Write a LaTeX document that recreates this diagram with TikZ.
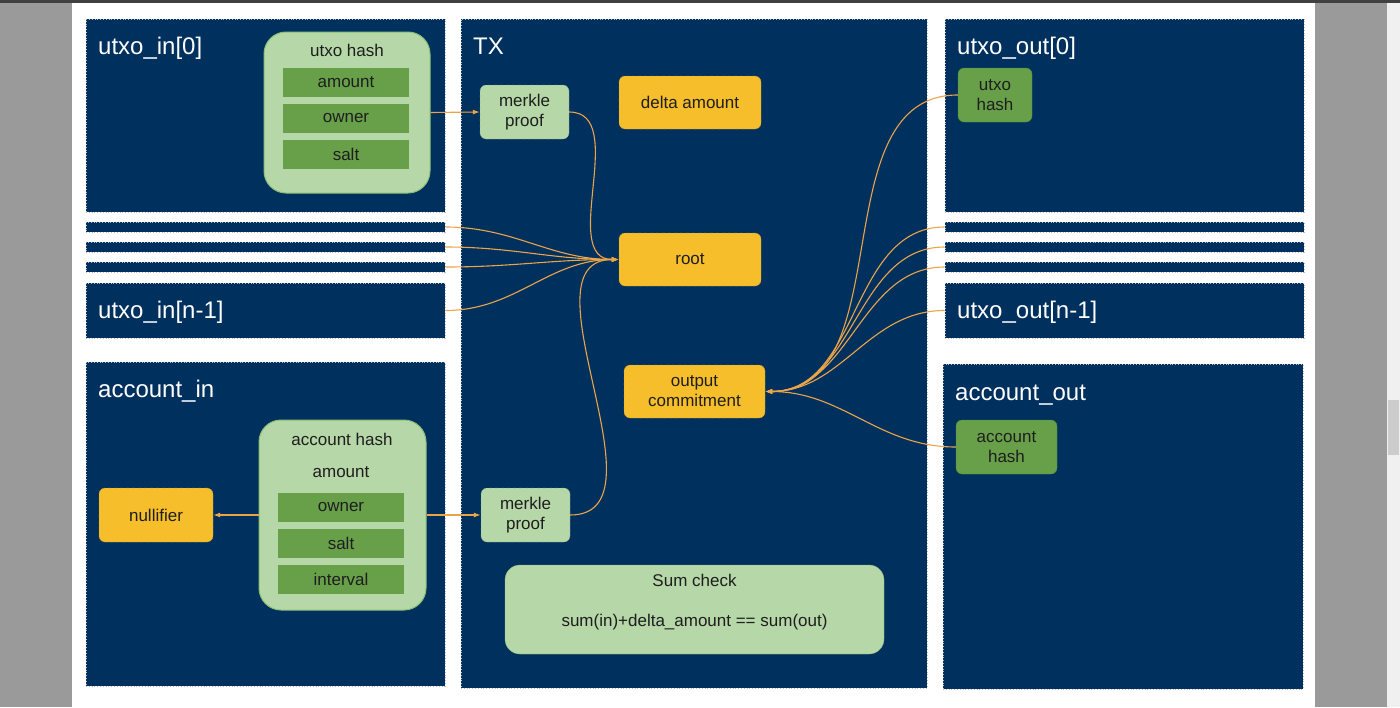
\documentclass[tikz,border=0pt]{standalone}
\usepackage{fontspec}
\setmainfont{Liberation Sans}
\usetikzlibrary{arrows.meta}
\definecolor{navy}{HTML}{00305E}
\definecolor{paneledge}{HTML}{B4BCC8}
\definecolor{lightgreen}{HTML}{B6D7A8}
\definecolor{hashedge}{HTML}{8CBF74}
\definecolor{darkgreen}{HTML}{68A04A}
\definecolor{leafedge}{HTML}{4E8A35}
\definecolor{gold}{HTML}{F6BE2A}
\definecolor{goldedge}{HTML}{B8912A}
\definecolor{proofedge}{HTML}{7E9E74}
\definecolor{wire}{HTML}{EBA448}
\definecolor{ink}{HTML}{1E1E1E}
\definecolor{chrome}{HTML}{9A9A9A}

\begin{document}
\begin{tikzpicture}[x=1pt,y=-1pt,>={Latex[length=7pt,width=5pt]},
  panel/.style={draw=paneledge,dotted,line width=0.8pt,fill=navy,inner sep=0pt},
  title/.style={text=white,font=\fontsize{24}{28}\selectfont,inner sep=0pt,anchor=base west},
  hashbox/.style={draw=hashedge,line width=1pt,fill=lightgreen,rounded corners=22pt,inner sep=0pt},
  field/.style={fill=darkgreen,text=ink,minimum width=126pt,minimum height=29pt,inner sep=0pt,font=\fontsize{17}{20}\selectfont},
  tag/.style={text=ink,inner sep=0pt,font=\fontsize{17}{20}\selectfont},
  gold/.style={draw=goldedge,dashed,fill=gold,text=ink,rounded corners=6pt,minimum height=53pt,inner sep=0pt,align=center,font=\fontsize{17}{20}\selectfont},
  proof/.style={draw=proofedge,dashed,fill=lightgreen,text=ink,rounded corners=6pt,minimum width=89pt,minimum height=54pt,inner sep=0pt,align=center,font=\fontsize{17}{20}\selectfont},
  leaf/.style={draw=leafedge,fill=darkgreen,text=ink,rounded corners=6pt,minimum height=54pt,inner sep=0pt,align=center,font=\fontsize{17}{20}\selectfont},
  conn/.style={draw=wire,line width=1.1pt}]
\def \colL {265.5}
\def \colR {1124.5}
\useasboundingbox (0,0) rectangle (1400,707);
% screen around the page
\fill[chrome] (0,0) rectangle (1400,707);
\fill[black!75] (0,0) rectangle (1400,3);
\fill[white] (72,3) rectangle (1315,707);
\fill[black!6] (1387,3) rectangle (1400,707);
\fill[black!20] (1388,400) rectangle (1399,455);

% inputs
\node[panel,minimum width=359pt,minimum height=193pt] (in0) at (\colL,115.5) {};
\node[panel,minimum width=359pt,minimum height=10pt] (in1) at (\colL,227) {};
\node[panel,minimum width=359pt,minimum height=10pt] (in2) at (\colL,247) {};
\node[panel,minimum width=359pt,minimum height=10pt] (in3) at (\colL,267) {};
\node[panel,minimum width=359pt,minimum height=55pt] (inlast) at (\colL,310.5) {};
\node[panel,minimum width=359pt,minimum height=324pt] (accin) at (\colL,524) {};
% transaction
\node[panel,minimum width=466pt,minimum height=669pt] (tx) at (694,353.5) {};
% outputs
\node[panel,minimum width=359pt,minimum height=193pt] (out0) at (\colR,115.5) {};
\node[panel,minimum width=359pt,minimum height=10pt] (out1) at (\colR,227) {};
\node[panel,minimum width=359pt,minimum height=10pt] (out2) at (\colR,247) {};
\node[panel,minimum width=359pt,minimum height=10pt] (out3) at (\colR,267) {};
\node[panel,minimum width=359pt,minimum height=55pt] (outlast) at (\colR,310.5) {};
\node[panel,minimum width=360pt,minimum height=325pt] (accout) at (1123,526.5) {};

\node[title] (tin0) at (98,54) {utxo\_in[0]};
\node[title] (tinlast) at (98,318) {utxo\_in[n-1]};
\node[title] (taccin) at (98,397) {account\_in};
\node[title] (ttx) at (473,54) {TX};
\node[title] (tout0) at (957,54) {utxo\_out[0]};
\node[title] (toutlast) at (957,318) {utxo\_out[n-1]};
\node[title] (taccout) at (955,400) {account\_out};

% utxo_in[0]
\node[hashbox,minimum width=166pt,minimum height=161pt] (uh) at (347,112.5) {};
\node[tag] (uhname) at (347,50) {utxo hash};
\node[field] (uamount) at (346,82.5) {amount};
\node[field] (uowner) at (346,118.5) {owner};
\node[field] (usalt) at (346,154.5) {salt};

% account_in
\node[hashbox,minimum width=167pt,minimum height=190pt] (ah) at (342.5,515) {};
\node[tag] (ahname) at (342,439) {account hash};
\node[tag] (aamount) at (341,472) {amount};
\node[field] (aowner) at (341,507.5) {owner};
\node[field] (asalt) at (341,543) {salt};
\node[field] (ainterval) at (341,579) {interval};
\node[gold,minimum width=114pt,minimum height=54pt] (null) at (156,515) {nullifier};

% TX
\node[proof] (mp1) at (524.5,112) {merkle\\proof};
\node[proof] (mp2) at (525.5,515) {merkle\\proof};
\node[gold,minimum width=142pt] (delta) at (690,102.5) {delta amount};
\node[gold,minimum width=142pt] (root) at (690,259.5) {root};
\node[gold,minimum width=141pt] (outcom) at (694.5,391.5) {output\\commitment};
\node[fill=lightgreen,draw=hashedge,rounded corners=15pt,minimum width=379pt,minimum height=89pt] (sum) at (694.5,609.5) {};
\node[tag] (sumname) at (694.5,580) {Sum check};
\node[tag] (sumrule) at (694.5,622) {sum(in)+delta\_amount == sum(out)};

% outputs
\node[leaf,minimum width=74pt] (uhout) at (995,95) {utxo\\hash};
\node[leaf,minimum width=101pt] (ahout) at (1006.5,447) {account\\hash};

% wires
\draw[conn,->] (uh.east) -- (mp1.west);
\draw[conn,->] (ah.east) -- (mp2.west);
\draw[conn,->] (ah.west) -- (null.east);
\foreach \src in {mp1,in1,in2,in3,inlast,mp2}
  \draw[conn,->] (\src.east) to[out=0,in=180] (root.west);
\foreach \src in {uhout,out1,out2,out3,outlast,ahout}
  \draw[conn,->] (\src.west) to[out=180,in=0] (outcom.east);
\end{tikzpicture}
\end{document}
